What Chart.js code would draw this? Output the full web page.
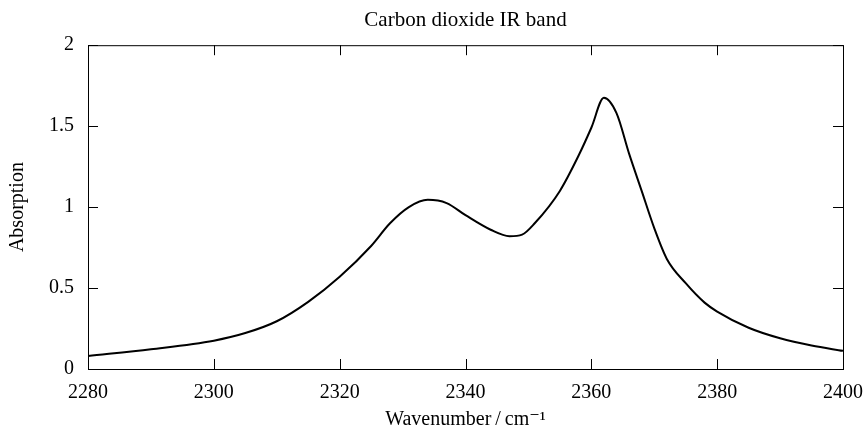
<!DOCTYPE html>
<html>
<head>
<meta charset="utf-8">
<script src="https://cdn.jsdelivr.net/npm/chart.js@4.4.1/dist/chart.umd.min.js"></script>
<style>
  html, body { margin: 0; padding: 0; background: #fff; }
  #wrap { width: 865px; height: 432px; }
</style>
</head>
<body>
<div id="wrap"><canvas id="irChart"></canvas></div>
<script>
// values
const wavenumbers = [2280, 2290, 2300, 2305, 2310, 2315, 2320, 2325, 2328, 2331, 2334, 2337, 2340, 2344, 2347, 2349, 2351, 2355, 2358, 2360, 2362, 2364, 2366, 2368, 2370, 2372, 2375, 2378, 2380, 2385, 2390, 2395, 2400];
const absorption = [0.08, 0.122, 0.175, 0.222, 0.295, 0.415, 0.57, 0.76, 0.9, 1.0, 1.045, 1.025, 0.95, 0.86, 0.82, 0.83, 0.9, 1.1, 1.32, 1.49, 1.675, 1.58, 1.33, 1.10, 0.87, 0.68, 0.53, 0.41, 0.355, 0.255, 0.19, 0.145, 0.112];
const xTicks = [2280, 2300, 2320, 2340, 2360, 2380, 2400];
const yTicks = [0, 0.5, 1, 1.5, 2];

const serif = "'Liberation Serif', 'DejaVu Serif', serif";

// ticks pointing into the plot on all four sides, plus the top/right frame
const frameTicks = {
    id: 'frameTicks',
    afterDraw(chart) {
        const c = chart.ctx;
        const a = chart.chartArea;
        const xs = chart.scales.x, ys = chart.scales.y;
        const len = 10;
        c.save();
        c.strokeStyle = '#000';
        c.lineWidth = 1;
        c.beginPath();
        c.rect(a.left + 0.5, a.top + 0.5, a.right - a.left, a.bottom - a.top);
        xTicks.forEach(v => {
            const px = Math.round(xs.getPixelForValue(v)) + 0.5;
            c.moveTo(px, a.bottom); c.lineTo(px, a.bottom - len);
            c.moveTo(px, a.top); c.lineTo(px, a.top + len);
        });
        yTicks.forEach(v => {
            const py = Math.round(ys.getPixelForValue(v)) + 0.5;
            c.moveTo(a.left, py); c.lineTo(a.left + len, py);
            c.moveTo(a.right, py); c.lineTo(a.right - len, py);
        });
        c.stroke();
        c.restore();
    }
};

new Chart(document.getElementById('irChart').getContext('2d'), {
    type: 'line',
    data: {
        datasets: [{
            label: 'CO2',
            data: wavenumbers.map((w, i) => ({ x: w, y: absorption[i] })),
            borderColor: '#000',
            borderWidth: 2,
            pointRadius: 0,
            fill: false,
            cubicInterpolationMode: 'monotone'
        }]
    },
    options: {
        responsive: true,
        maintainAspectRatio: false,
        animation: false,
        layout: { padding: { left: 6, right: 0, top: 8, bottom: 0 } },
        plugins: {
            legend: { display: false },
            tooltip: { enabled: false },
            title: {
                display: true,
                text: 'Carbon dioxide IR band',
                color: '#000',
                fullSize: false,
                font: { family: serif, size: 21, weight: 'normal' },
                padding: { top: 0, bottom: 12 }
            }
        },
        scales: {
            x: {
                type: 'linear',
                min: 2280,
                max: 2400,
                afterBuildTicks: s => { s.ticks = xTicks.map(v => ({ value: v })); },
                // last label may hang past the frame, as in the original
                afterFit: s => { s.paddingRight = 22; },
                ticks: {
                    color: '#000', font: { family: serif, size: 20 }, padding: 12, maxRotation: 0,
                    callback: v => String(v)
                },
                grid: { drawOnChartArea: false, drawTicks: false },
                border: { color: '#000' },
                title: {
                    display: true,
                    text: 'Wavenumber\u2009/\u2009cm\u207B\u00B9',
                    color: '#000',
                    font: { family: serif, size: 20 },
                    padding: { top: -9, bottom: 0 }
                }
            },
            y: {
                min: 0,
                max: 2,
                afterBuildTicks: s => { s.ticks = yTicks.map(v => ({ value: v })); },
                ticks: {
                    color: '#000', font: { family: serif, size: 20 }, padding: 14,
                    callback: v => String(v)
                },
                grid: { drawOnChartArea: false, drawTicks: false },
                border: { color: '#000' },
                title: {
                    display: true,
                    text: 'Absorption',
                    color: '#000',
                    font: { family: serif, size: 20 },
                    padding: { top: 0, bottom: 5 }
                }
            }
        }
    },
    plugins: [frameTicks]
});
</script>
</body>
</html>
